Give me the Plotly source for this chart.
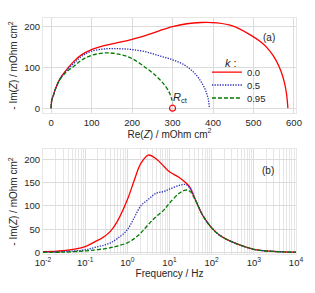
import plotly.graph_objects as go

K_LABELS = ["0.0", "0.5", "0.95"]
COLORS = ["#ff0000", "#2a2ab8", "#007a00"]
DASHES = ["solid", "1.3px,1.3px", "4px,2px"]

# Nyquist (a): Re(Z) and -Im(Z), mOhm cm^2
re_k0 = [0, 1, 3, 6, 10, 22, 35, 55, 75, 100, 137, 170, 200, 236, 270, 300, 335, 370, 410, 450, 490, 520, 540, 555, 568, 577, 582, 585]
im_k0 = [0, 15, 25, 32, 45, 72, 90, 113, 130, 143, 154, 161, 168, 178, 190, 199, 206, 209, 208, 200, 180, 160, 140, 118, 90, 60, 32, 0]
re_k05 = [0, 1, 3, 6, 10, 22, 35, 55, 75, 100, 137, 170, 200, 236, 270, 300, 330, 355, 372, 383, 389, 391]
im_k05 = [0, 15, 25, 32, 45, 71, 88, 108, 126, 139, 145, 145, 143, 137, 127, 118, 105, 85, 62, 40, 18, 0]
re_k095 = [0, 1, 3, 6, 10, 22, 35, 55, 75, 100, 137, 170, 200, 236, 260, 280, 292, 298, 300]
im_k095 = [0, 15, 25, 32, 45, 70, 86, 101, 117, 129, 135, 131, 121, 97, 78, 57, 38, 22, 12]

# Bode (b): -Im(Z) versus frequency
freq = [0.01, 0.03, 0.1, 0.16, 0.28, 0.4, 0.58, 1.0, 1.46, 2.09, 3.14, 4.8, 7.5, 10, 17, 24, 30, 43, 63, 100, 155, 270, 1000, 3000, 10000]
bode_k0 = [2, 4, 13, 22, 34, 46, 67, 113, 155, 191, 209, 201, 184, 173, 161, 150, 141, 109, 78, 53, 37, 25, 7, 2.5, 0.8]
bode_k05 = [0.7, 2, 6, 10.6, 16, 21, 30, 49, 75, 100, 114, 127, 131, 136, 144, 146, 139, 109, 78, 53, 37, 25, 7, 2.5, 0.8]
bode_k095 = [0.3, 1, 3.5, 5.5, 8, 10.6, 14, 21, 30, 42, 60, 77, 92, 106, 127, 134, 132, 109, 78, 53, 37, 25, 7, 2.5, 0.8]

DEC_VALS = [0.01, 0.1, 1, 10, 100, 1000, 10000]
DEC_TEXT = ["10<sup>-2</sup>", "10<sup>-1</sup>", "10<sup>0</sup>", "10<sup>1</sup>",
            "10<sup>2</sup>", "10<sup>3</sup>", "10<sup>4</sup>"]
MINOR_VALS = [m * 10.0 ** e for e in range(-2, 4) for m in range(2, 10)]

FONT = "Liberation Sans, Arial, sans-serif"
TXT = "#262626"
GRID = "#dcdcdc"

LEGEND_IDS = ["legend", "legend2", "legend3"]
LEGEND_Y = [0.771, 0.716, 0.661]

fig = go.Figure()
nyq = [(re_k0, im_k0), (re_k05, im_k05), (re_k095, im_k095)]
bode = [bode_k0, bode_k05, bode_k095]
for i in range(3):
    fig.add_trace(go.Scatter(x=nyq[i][0], y=nyq[i][1], mode="lines", name=K_LABELS[i],
                             line=dict(color=COLORS[i], dash=DASHES[i], width=1.3, shape="spline"),
                             xaxis="x", yaxis="y", legend=LEGEND_IDS[i]))
for i in range(3):
    fig.add_trace(go.Scatter(x=freq, y=bode[i], mode="lines", name=K_LABELS[i], showlegend=False,
                             line=dict(color=COLORS[i], dash=DASHES[i], width=1.3, shape="spline"),
                             xaxis="x2", yaxis="y2"))

# Rct marker
fig.add_trace(go.Scatter(x=[300], y=[0], mode="markers", showlegend=False,
                         marker=dict(symbol="circle-open", color="#ff0000", size=6, line=dict(width=1.2)),
                         xaxis="x", yaxis="y"))

axis_common = dict(showgrid=True, gridcolor=GRID, gridwidth=1, zeroline=False,
                   showline=True, mirror=True, linecolor="#e6e6e6", linewidth=1,
                   ticks="", automargin=False, tickfont=dict(size=9.5, color=TXT, family=FONT))

legend_common = dict(x=0.648, xanchor="left", yanchor="middle", orientation="v",
                     bgcolor="rgba(255,255,255,0)", font=dict(size=9.5, color=TXT), borderwidth=0)

fig.update_layout(
    width=315, height=293,
    margin=dict(l=43, r=19, t=18, b=39),
    paper_bgcolor="white", plot_bgcolor="white",
    font=dict(family=FONT, color=TXT, size=10),
    xaxis=dict(domain=[0, 1], anchor="y", range=[-20, 605], tickvals=[0, 100, 200, 300, 400, 500, 600],
               title=dict(text="Re(<i>Z</i>) / mOhm cm<sup>2</sup>", font=dict(size=10), standoff=2),
               **axis_common),
    yaxis=dict(domain=[0.597, 1], anchor="x", range=[-12, 220], tickvals=[0, 100, 200],
               title=dict(text="- Im(<i>Z</i>) / mOhm cm<sup>2</sup>", font=dict(size=10), standoff=4),
               **axis_common),
    xaxis2=dict(domain=[0, 1], anchor="y2", type="log", range=[-2, 4], tickvals=DEC_VALS, ticktext=DEC_TEXT,
                minor=dict(tickvals=MINOR_VALS, showgrid=True, gridcolor="#e6e6e6", ticks=""),
                title=dict(text="Frequency / Hz", font=dict(size=10), standoff=2),
                **axis_common),
    yaxis2=dict(domain=[0, 0.445], anchor="x2", range=[-3, 222], tickvals=[0, 50, 100, 150, 200],
                title=dict(text="- Im(<i>Z</i>) / mOhm cm<sup>2</sup>", font=dict(size=10), standoff=4),
                **axis_common),
    legend=dict(y=LEGEND_Y[0], **legend_common),
    legend2=dict(y=LEGEND_Y[1], **legend_common),
    legend3=dict(y=LEGEND_Y[2], **legend_common),
    showlegend=True,
    annotations=[
        dict(text="<i>k</i> :", x=0.775, y=0.845, xref="paper", yref="paper", showarrow=False,
             font=dict(size=11, color=TXT)),
        dict(text="(a)", x=0.925, y=0.874, xref="x domain", yref="y domain", showarrow=False,
             font=dict(size=10, color=TXT)),
        dict(text="(b)", x=0.921, y=0.867, xref="x2 domain", yref="y2 domain", showarrow=False,
             font=dict(size=10, color=TXT)),
        dict(text="<i>R</i><sub>ct</sub>", x=300, y=0, xref="x", yref="y", xanchor="left",
             yanchor="bottom", xshift=-2, yshift=1, showarrow=False, font=dict(size=11, color=TXT)),
    ],
)

fig.write_html("out.html", config={"displayModeBar": False},
               post_script="document.body.style.margin='0px';")
